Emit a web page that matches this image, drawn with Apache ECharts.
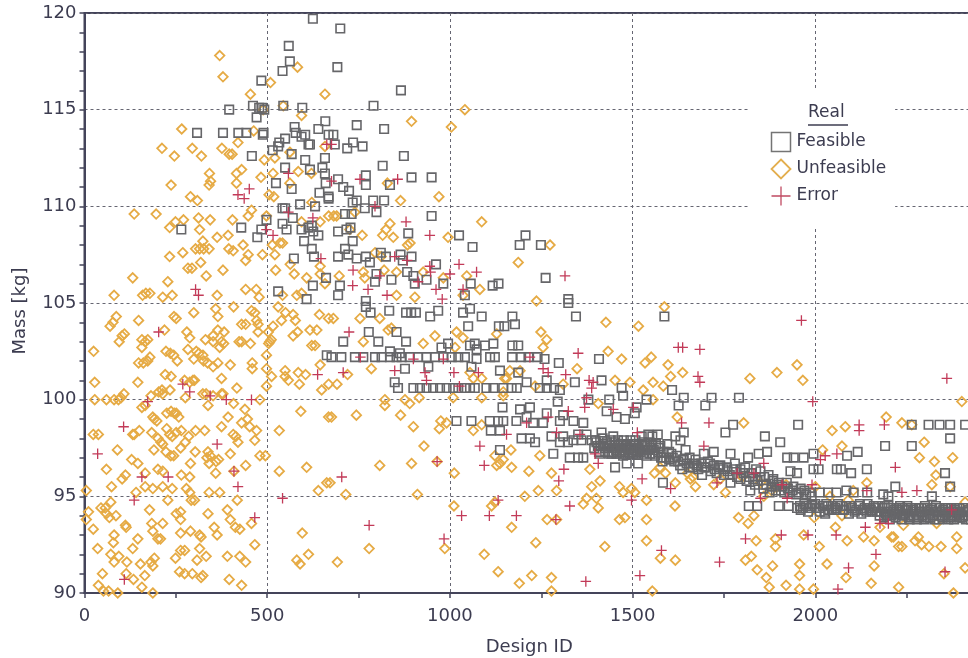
<!DOCTYPE html>
<html><head><meta charset="utf-8">
<style>html,body{margin:0;padding:0;background:#fff;overflow:hidden}#c{width:968px;height:658px}</style>
<script src="https://cdn.jsdelivr.net/npm/echarts@6/dist/echarts.min.js"></script>
</head><body><div id="c"></div>
<script>
var feasible=[
[625,119.7],[559,118.3],[562,117.5],[542,117],[484,116.5],[396,115],[461,115.2],[478,115.1],[486,115.1],[492,115],[544,115.2],[596,115.1],[471,114.6],[308,113.8],[379,113.8],[421,113.8],[443,113.8],[490,113.8],[488,113.7],[575,114.1],[578,113.8],[594,113.6],[604,113.7],[659,114.4],[640,114],[668,113.7],[613,113.2],[617,113.2],[549,113.5],[533,113.3],[530,113.1],[515,112.9],[458,112.6],[567,112.7],[604,112.4],[658,112.5],[549,112],[617,111.9],[651,112],[658,111.7],[524,111.2],[567,110.9],[660,111.2],[643,110.7],[668,110.5],[590,110.1],[631,110],[668,110.4],[542,109.9],[549,109.9],[570,109.4],[498,109.3],[542,109.1],[553,108.8],[265,108.8],[429,108.9],[484,108.8],[473,108.4],[594,108.8],[613,108.9],[622,109],[626,108.7],[640,108.5],[601,108.2],[622,107.8],[628,107.4],[573,107.3],[661,106.3],[625,105.9],[530,105.6],[608,105.2],[663,102.3],
[700,119.2],[692,117.2],[866,116],[791,115.2],[745,114.2],[820,114],[681,113.7],[685,113.2],[719,113],[735,113.3],[761,113.1],[874,112.6],[816,112.1],[895,111.5],[950,111.5],[770,111.6],[770,111.1],[836,111.1],[694,111.4],[708,111],[724,110.8],[745,110.3],[790,110.3],[820,110.3],[734,110.2],[713,109.6],[731,109.6],[767,109.9],[799,109.7],[950,109.5],[886,108.6],[694,108.7],[717,108.8],[728,108.9],[734,108.2],[713,107.8],[722,107.5],[694,107.4],[745,107.3],[770,107.4],[811,107.6],[825,107.4],[865,107.5],[871,107.2],[895,107.4],[781,107.1],[1025,108.5],[1062,107.9],[1207,108.5],[1191,108],[1249,108],[962,107],[883,106.6],[900,106.4],[799,106.5],[795,106.1],[840,106.2],[904,106],[936,106.2],[982,106],[1057,106],[1117,105.9],[1133,106],[1262,106.3],[1324,105.2],[699,105.9],[694,105.4],[770,105.1],[1041,105.4],
[1324,105],[1345,104.3],[770,104.8],[783,104.5],[834,104.6],[880,104.5],[894,104.5],[907,104.5],[946,104.3],[968,104.6],[1036,104.5],[1055,104.7],[1087,104.3],[1050,103.8],[1134,103.8],[1149,103.8],[1171,104.3],[1178,103.9],[708,103],[778,103.5],[804,103],[854,103.5],[880,103],[995,102.9],[1055,102.8],[1068,102.9],[1073,102.6],[1096,102.8],[1119,102.9],[1171,102.8],[1187,102.8],[836,102.5],[863,102.4],[977,102.7],
[676,102.2],[703,102.2],[740,102.2],[763,102.2],[795,102.2],[813,102.2],[836,102.2],[854,102.2],[868,102.2],[890,102.2],[913,102.2],[936,102.2],[959,102.2],[982,102.2],[1005,102.2],[1023,102.2],[1041,102.2],[1073,102.1],[1110,102.2],[1123,102.2],[1170,102.2],[1195,102.2],[1215,102.2],[1240,102.2],[1259,102.1],[1298,101.9],[1408,102.1],
[900,100.6],[918,100.6],[936,100.6],[954,100.6],[973,100.6],[991,100.6],[1009,100.6],[1023,100.6],[1041,100.6],[1055,100.6],[1068,100.6],[1100,100.6],[1119,100.6],[1146,100.6],[1169,100.6],[1183,100.6],[1246,100.6],[1265,100.6],[1285,100.6],
[849,100.9],[858,100.6],[877,101.6],[941,101.7],[1059,101.7],[1137,101.5],[1187,101.4],[1210,100.9],[1265,101],[1342,100.9],[1415,101],[1301,100.5],[1470,100.6],[1474,100.2],[1295,99.9],[1379,100],[1436,100],[1538,100],[1511,99.6],[1506,99.3],[1144,99.6],[1192,99.5],[1219,99.6],[1429,99.4],[1456,99.1],[1479,99],[1265,99.3],[1310,99.2],
[1018,98.9],[1059,98.9],[1109,98.9],[1132,98.9],[1146,98.9],[1210,99.1],[1182,98.9],[1228,98.8],[1255,98.8],[1301,98.9],[1338,98.9],[1365,98.8],[1112,98.4],[1137,98.4],[1196,98],[1219,98],[1233,97.8],[1278,98.1],[1137,97.4],[1283,97.2],[1301,97.8],[1328,97],[1351,97],[1365,97],[1310,98.1],[1323,97.8],[1338,97.9],
[1452,96.5],[1484,96.7],[1515,96.7],[1351,98.2],[1360,97.9],[1374,98.2],[1388,97.9],[1401,97.8],[1415,98.3],[1420,97.7],[1433,97.5],[1447,98.1],[1447,97.3],[1461,97.6],[1474,97.7],[1474,97.1],[1488,97.4],[1502,97.7],[1502,97.2],[1515,97.5],[1525,98.1],[1534,97.6],[1538,97.1],[1543,98.2],
[1395,97.5],[1408,97.3],[1412,97.6],[1425,97.3],[1438,97.6],[1442,97.2],[1452,97.5],[1456,97.2],[1465,97.3],[1470,97.5],[1478,97.3],[1482,97.6],[1492,97.2],[1496,97.5],[1506,97.4],[1510,97.2],[1520,97.3],[1528,97.4],[1542,97.4],[1548,97.2],[1558,97.4],[1562,97.1],[1572,97.5],[1578,97],
[1398,97.9],[1405,97.6],[1410,97.2],[1418,98],[1424,97.5],[1430,97.8],[1436,97.2],[1440,97.9],[1445,97.5],[1450,97.8],[1455,97.4],[1460,97.9],[1464,97.2],[1468,97.7],[1472,97.4],[1476,97.9],[1480,97.2],[1485,97.7],[1490,97.5],[1494,97.9],[1498,97.3],[1504,97.6],[1508,97.9],[1512,97.3],[1517,97.7],[1522,97.4],[1526,97.8],[1530,97.2],[1536,97.7],[1540,97.4],[1546,97.8],[1550,97.5],[1556,97.2],[1564,97.7],[1570,97.3],[1576,97.6],
[1587,104.3],[1608,100.5],[1640,100.1],[1626,99.7],[1716,100.1],[1699,99.7],[1791,100.1],[1775,98.7],[1754,98.3],[1953,98.7],[1862,98.1],[1904,97.8],[1868,97.3],[1768,97.2],[1816,97],[1845,97.2],[1569,98.2],[1617,98.1],[1640,98.3],[1631,97.9],[1595,97.7],[1554,98.1],[1554,97.6],[1722,97.3],[1695,97.2],[1645,97.4],[1600,97.3],[1582,96.8],[1636,96.4],[1668,96.7],[1690,96.1],[1736,96.5],[1768,95.7],[1822,95.3],[1818,94.5],[1841,94.5],[1900,94.5],[1927,94.5],[1923,97],[1941,97],[1968,97],[1995,97.2],[2087,97.1],[2116,97.3],[2191,97.6],[2264,98.7],[2310,98.7],[2340,98.7],[2369,98.7],[2410,98.7],[2369,98],[2264,97.6],[2355,96.2],[2141,96.4],[2059,96.4],[2070,96.4],[2098,96.2],[2219,95.5],[2369,95.5],[2319,95],[1995,96.4],[2009,96.4],[1950,96.2],[1932,96.3],[2027,94.1],[1583,95.7],
[1610,97],[1625,96.8],[1640,96.9],[1655,96.5],[1675,96.6],[1700,96.5],[1712,96.7],[1725,96.4],[1748,96.4],[1760,96.3],[1780,96.7],[1795,96.4],[1808,96.5],[1825,96.2],[1838,96.4],[1850,96.3],[1860,96],[1872,96.1],[1885,95.9],[1835,95.6],[1858,95.6],[1880,95.5],[1895,95.6],[1910,95.5],[1925,95.4],[1938,95.3],[1955,95.2],[1970,95.3],[1985,95.2],[2012,95.2],[2035,95.2],[2058,95.2],[2085,95.3],[2105,95.2],[2142,95.2],[2186,95.1],[2200,95],
[1585,97.3],[1592,97],[1600,96.9],[1606,97.2],[1614,96.8],[1620,97.1],[1630,96.6],[1638,96.9],[1648,96.7],[1656,97],[1664,96.5],[1672,96.9],[1680,96.4],[1688,96.7],[1696,96.5],[1706,96.8],[1714,96.3],[1722,96.6],[1730,96.2],[1740,96.6],[1750,96.1],[1758,96.5],[1766,96.1],[1776,96.4],[1786,96],[1795,95.9],[1804,96.2],[1812,95.8],[1820,96],[1830,95.9],[1842,95.8],[1850,96],[1858,95.4],[1866,95.6],[1875,95.2],[1884,95.8],[1892,95.3],[1900,95.7],[1906,95.3],[1915,95.2],[1922,95.7],[1930,95.2],[1940,95.5],[1948,95.1],[1960,95.4],[1975,95.1],[1990,95],
[1950,94.4],[1958,94.5],[1966,94.4],[1975,94.5],[1985,94.4],[1992,94.6],[2003,94.4],[2012,94.2],[2020,94.5],[2030,94.6],[2038,94.3],[2048,94.5],[2055,94.4],[2062,94.6],[2075,94.3],[2084,94.5],[2092,94.1],[2100,94.4],[2108,94.2],[2118,94.5],[2126,94.1],[2135,94.4],[2143,94.6],[2152,94.3],[2160,94.5],[2168,94.2],[2176,94],[2184,94.4],[2192,94.1],[2200,94.5],[2208,94],[2216,94.3],[2224,94.1],[2232,94.5],[2240,94],[2248,94.3],[2256,93.9],[2262,94.4],[2270,94],[2278,93.8],[2286,94.2],[2294,94],[2300,94.5],[2308,93.9],[2316,94.3],[2322,94],[2330,94.5],[2338,93.8],[2346,94.2],[2354,94],[2362,94.4],[2370,93.9],[2378,94.2],[2386,94],[2394,94.4],[2402,93.9],[2410,94.2],[2418,94],[2426,93.8],
[2190,94.5],[2198,94.2],[2206,94.4],[2214,94.1],[2222,94.4],[2230,94.2],[2238,94.4],[2246,94.1],[2254,94.3],[2260,94],[2268,94.3],[2276,94.1],[2284,94.4],[2292,94.2],[2304,94.2],[2312,94.1],[2320,94.4],[2334,94.2],[2342,94],[2350,94.3],[2358,94.1],[2366,94.2],[2374,94],[2382,94.3],[2390,94.1],[2398,94.2],[2406,94],[2414,94.2],
[1960,94.3],[1970,94.6],[1980,94.2],[1990,94.5],[2000,94.6],[2010,94.4],[2025,94.2],[2035,94.5],[2045,94.3],[2058,94.3],[2068,94.5],[2080,94.3],[2096,94.5],[2112,94.3],[2122,94.6],[2130,94.3],[2140,94.2],[2148,94.4],[2156,94.2],[2164,94.4],[2172,94.5],[2180,94.2],[2188,93.9],[2196,94],[2204,93.8],[2212,94.2],[2220,93.9],[2228,94.3],[2236,93.8],[2244,94.1],[2252,94.5],[2258,93.8],[2266,94.2],[2274,94.4],[2282,93.9],[2290,94.4],[2298,93.8],[2306,94.4],[2314,93.9],[2326,93.8],[2332,94.2],[2340,94.4],[2348,93.9],[2356,94.4],[2364,93.8],[2372,94.4],[2380,93.8],[2388,94.4],[2396,93.9],[2404,94.4],[2412,93.8],[2420,94.3]
];
var unfeasible=[
[25,102.5],[28,100.9],[28,100],[60,100],[81,100],[93,100],[100,100.1],[108,100.3],[70,103.8],[78,104],[87,104.3],[95,103],[103,103.3],[109,103.4],[148,104.1],[157,103.1],[166,103],[173,103.1],[157,102.7],[148,101.9],[161,101.9],[179,102.2],[173,102],[146,100.9],[157,99.6],[166,99.7],[245,104.3],[251,104.2],[299,104.5],[219,103.6],[223,102.5],[235,102.4],[244,102.3],[254,102],[221,101.3],[237,101.2],[182,100.2],[203,100.4],[212,100.5],[214,100.3],[234,100.5],[280,103.5],[288,103.2],[283,102.6],[306,102.5],[313,102.4],[299,102.1],[324,102.3],[326,102],[337,101.9],[352,101.7],[365,101.9],[331,103.1],[352,103.3],[365,103.6],[382,103.5],[375,103],[381,102.9],[370,102.7],[352,103],[359,104.7],[365,104.3],[408,104.8],[430,103.9],[441,103.9],[457,104.6],[466,104.5],[471,104.1],[475,103.9],[475,103.5],[423,103],[430,103],[454,102.9],[399,101.8],[459,101.9],[459,101.6],[375,101.1],[417,100.6],[379,100.3],[324,100.3],[333,100.3],[274,101],[288,100.9],[297,101],[301,101],[276,100.1],[338,99.7],[352,100.2],[375,100.3],[408,99.8],[480,100],[507,103],[511,103.1],[504,102.9],[498,102.3],[503,103.5],[516,103.8],
[225,99.3],[237,99.4],[246,99.3],[251,99.3],[258,99.1],[187,99.1],[191,99],[198,98.9],[393,99.1],[375,98.6],[439,99.5],[446,99],[430,98.8],[452,98.6],[471,98.4],[466,97.9],[407,98.2],[414,98.1],[420,97.8],[24,98.2],[38,98.2],[132,98.2],[136,98.2],[150,98.4],[184,98.3],[201,98],[209,97.8],[214,97.7],[190,97.4],[225,98.5],[233,98.2],[240,98.1],[251,98.3],[265,98.4],[285,98.1],[276,97.8],[263,97.5],[304,98.4],[329,98.4],[223,97.3],[236,97.1],[244,97.1],[303,97.3],[290,96.7],[338,97.3],[344,97.1],[335,97],[360,96.8],[367,96.9],[341,96.7],[359,96.2],[399,97.2],[441,96.6],[480,97.1],[495,97.1],[533,98.4],[592,99.4],[533,96.3],[608,96.5],[90,97.4],[129,96.9],[146,96.7],[60,96.4],[166,96.2],[201,96.4],[214,96.3],[265,96.1],[288,96],[112,96.1],[103,95.9],[74,95.5],[166,95.5],[187,95.4],[214,95.5],[240,95.4],[279,95.4],[288,95.2],[292,94.8],[301,94.8],[341,95.2],[370,95.2],[5,95.3],[141,95.2],[228,94.8],[418,94.8],[409,96.3],
[11,94.2],[5,93.8],[24,93.3],[45,94.4],[57,94.4],[72,94.7],[60,94.1],[68,93.9],[86,94],[112,93.5],[114,93.4],[178,94.3],[184,93.6],[187,93.2],[214,93.6],[201,92.8],[208,92.8],[251,94.1],[263,94.2],[263,93.8],[338,94.1],[355,93.4],[391,94.3],[399,93.8],[413,93.4],[425,93.3],[457,93.6],[363,93],[290,93.2],[263,93.1],[315,93],[319,92.9],[466,92.5],[596,93.1],[81,93],[79,92.6],[36,92.3],[132,92.3],[146,92.8],[72,92],[94,91.9],[81,91.6],[116,91.6],[153,91.5],[191,91.8],[182,91.6],[187,91.4],[249,91.8],[263,92.2],[274,92.2],[315,92.3],[308,91.7],[333,91.9],[391,91.9],[425,91.9],[441,91.6],[581,91.7],[590,91.5],[613,92],[49,91],[114,91],[165,90.9],[134,90.7],[260,91.1],[274,91],[295,91],[319,90.8],[324,90.9],[396,90.7],[430,90.4],[38,90.4],[52,90.1],[66,90.1],[91,90],[157,90.3],[187,90],
[370,117.8],[379,116.7],[509,116.4],[583,117.2],[454,115.8],[658,115.8],[266,114],[212,113],[246,112.6],[295,113],[320,112.6],[376,113],[396,112.7],[404,112.7],[420,113.3],[463,113.9],[492,112.4],[521,112.5],[342,111.7],[345,111.3],[341,111.1],[237,111.1],[290,110.5],[309,110.3],[416,111.7],[430,111.9],[416,111.2],[483,111.5],[516,111.7],[505,110.6],[518,110.5],
[136,109.6],[196,109.6],[233,108.9],[249,109.2],[271,109.3],[312,109.4],[344,109.3],[315,108.8],[405,109.3],[448,109.5],[457,109.8],[324,108.2],[363,108.4],[393,108.5],[434,108],[304,107.8],[315,107.8],[326,107.8],[341,107.8],[395,107.8],[407,107.7],[448,107.5],[441,107.2],[487,107.5],[521,107.5],[269,107.6],[233,107.4],[318,107.1],[283,106.8],[294,106.8],[379,106.7],[333,106.4],[132,106.3],[228,106.1],[523,106.7],[574,106.5],[514,108],[535,108.1],[542,108.1],[563,107],[81,105.4],[159,105.4],[168,105.5],[179,105.5],[214,105.3],[240,105.4],[363,105.4],[441,105.7],[470,105.7],[478,105.3],[542,105.4],[581,105.4],[594,105.5],[594,114.7],[544,115.2],[489,115],[645,106.9],[645,106.5],[608,106.3],[658,106],[594,109.2],[622,110.2],[645,109.2],[668,109.5],[585,111.8],[621,111.7],[562,111.2],[498,109.5],[658,113.1],[562,112.8],
[530,104.8],[550,104.5],[571,104.4],[577,104.1],[583,103.5],[571,103.3],[617,103.6],[636,103.6],[622,102.8],[631,102.8],[643,104.4],[668,104.2],[539,104.1],[498,101.6],[512,101.2],[549,101.5],[549,101.2],[558,101],[585,101.4],[605,101.3],[588,100.8],[498,100.7],[649,100.5],[668,100.8],[645,101.8],[668,99.1],[640,95.3],[663,95.7],
[1041,115],[1004,114.1],[895,114.4],[829,111.2],[970,110.5],[865,110.3],[1087,109.2],[836,109.1],[825,108.8],[816,108.5],[845,108.4],[760,108.5],[995,108.4],[891,108.1],[884,108],[1274,108],[1187,107.1],[1082,105.7],[1046,106.4],[1036,105.4],[1237,105.1],[904,105.3],[854,105.4],[795,107.6],[812,107.4],[854,106.6],[690,109.5],[726,108.8],[682,109.5],[740,109.7],[697,106.4],[763,106.6],[767,106.3],[820,106.7],[927,106.6],[982,106.3],
[681,104.2],[754,104.2],[808,104.2],[831,103.6],[840,103.7],[959,103.3],[1018,103.5],[1036,103.2],[1128,103.4],[1249,103.5],[1265,103.1],[1255,102.7],[1427,104],[1516,103.8],[763,103],[927,102.9],[785,101.6],[720,101.3],[691,100.8],[1433,102.5],[1470,102.1],[1534,101.9],[1348,101.6],[1452,101],[1493,100.9],[1529,100.5],[1406,99.8],[916,100.1],[1009,100.1],[1087,100.1],[1146,100.2],[822,100],[822,99.7],[877,100],[890,99.8],[744,99.2],[865,99.2],[676,99.1],[900,98.6],[975,98.9],[971,98.5],[991,98.8],[1064,98.4],[1087,98.7],[929,97.6],[808,96.6],[895,96.7],[965,96.8],[1012,96.2],[672,95.7],[715,95.1],[911,95.1],[1011,94.5],[1114,94.5],[1123,94.7],[1205,95],[1242,95.3],[1292,95.3],[1169,96.5],[1216,96.3],[1278,96.2],[1128,96.6],[1137,96.7],[1146,96.9],[1123,97.1],[1167,97.4],[1246,97.1],[1266,93.8],[1292,93.8],[1169,93.4],[1235,92.6],[779,92.3],[986,92.3],[1094,92],[692,91.6],[1132,91.1],[1224,90.9],[1190,90.5],[1278,90.8],[1278,90.1],[1424,92.4],[1383,96.4],[1411,95.8],[1388,95.5],[1374,94.9],[1365,94.6],[1406,94.4],[1401,94.9],[1464,95.5],[1474,95.2],[1497,95.4],[1506,95.2],[1538,94.8],[1464,93.8],[1479,93.9],[1538,93.8],[1538,92.7],
[1155,101.1],[1150,101.1],[1064,101.1],[1055,101.4],[1014,102.7],[1192,101.5],[1164,101.5],[1233,100.7],[1310,100.8],[1146,100.4],[1087,101.1],
[1587,104.8],[1551,102.2],[1597,101.8],[1604,101.2],[1637,101.4],[1584,100.7],[1556,100.9],[1556,100],[1821,101.1],[1895,101.4],[1950,101.8],[1966,101],[1622,99.1],[1804,98.8],[2046,98.4],[2082,98.6],[2073,97.6],[2020,97.4],[2194,99.1],[2237,98.8],[2264,98.7],[2298,97.8],[2285,97],[2326,96.8],[2376,97],[2330,96.1],[2319,95.6],[2401,99.9],[2369,95.5],
[1616,94.5],[1790,93.9],[1816,93.6],[1832,94],[1838,92.7],[1891,92.8],[1891,92.4],[1968,93],[1997,93.9],[2011,92.4],[2055,93.4],[2087,92.7],[2073,94],[2132,92.9],[2161,92.7],[2177,93.4],[2209,92.9],[2214,92.9],[2228,92.4],[2237,92.4],[2273,92.7],[2282,92.9],[2291,92.5],[2311,92.4],[2344,92.4],[2387,92.3],[2387,92.9],[2241,93.5],[2332,93.6],[1576,91.8],[1617,91.7],[1809,91.7],[1825,91.9],[1841,91.2],[1883,91.4],[1866,90.8],[1874,90.3],[1920,90.4],[1957,91.5],[1957,90.9],[1957,90.2],[1995,90.2],[2032,91.5],[2084,90.8],[2153,90.5],[2161,91.4],[2228,90.3],[2352,91],[2410,91.3],[1554,90.1],[2378,90],
[1672,95.5],[1658,95.9],[1617,95.7],[1722,95.6],[1754,95.2],[1859,95],[1895,95.5],[2141,95.7],[2104,95.3],[2410,94.7],
[1560,96.2],[1575,96.5],[1590,96.2],[1650,96.2],[1665,96],[1740,95.9],[1800,96],[1850,95.7],[1880,95.3],[1920,95.6],[2000,95.5],[2040,95],[2090,94.8]
];
var error=[
[203,103.5],[269,100.8],[288,100.4],[344,100.2],[388,100],[457,100],[173,99.9],[107,98.6],[36,97.2],[363,97.7],[157,96],[229,96],[409,96.3],[420,95.5],[136,94.8],[466,93.9],[542,94.9],[638,101.3],[109,90.7],
[451,110.9],[420,110.6],[437,110.4],[558,111.7],[663,113.2],[558,109.7],[625,109.4],[498,108.8],[516,108.5],[647,107.3],[304,105.7],[312,105.4],
[754,111.4],[857,111.4],[795,110],[880,109.2],[945,108.5],[1025,107],[1073,106.6],[1000,106.5],[945,106.9],[947,106.6],[735,106.7],[849,107.4],[808,106.4],[734,105.9],[776,105.7],[962,105.7],[913,106.1],[1315,106.4],[1036,105.7],[828,105.4],[979,105.2],[676,113.2],[676,111.3],[883,107.2],
[724,103.5],[708,101.4],[849,101.5],[755,102.2],[900,102.1],[982,102.1],[1011,101.4],[1078,101.4],[1026,100.7],[936,101],[932,101.4],[1219,102.2],[1255,101.6],[1269,101.4],[1317,101.3],[1351,102.4],[1381,101],[1392,100.9],[1388,100.6],[1374,100.1],[1369,99.6],[1324,99.4],[1269,99.1],[1210,98.8],[1155,98.2],[1082,97.6],[1094,96.6],[965,96.8],[704,96],[1312,96.4],[1298,95.8],[1132,94.8],[1328,94.5],[1032,94],[1108,94],[1182,94],[1290,93.8],[779,93.5],[984,92.8],[1372,90.6],[1520,90.9],[1497,94.8],[1526,95.9],[1406,96.7],[1397,97.2],[1513,98.3],[1502,99.6],[1447,99.5],[1292,98.3],[1356,98.2],
[1962,104.1],[1625,102.7],[1637,102.7],[1684,102.6],[1679,101.2],[1684,100.9],[2360,101.1],[1993,99.9],[1634,98.8],[1709,98.8],[1695,97.6],[2120,98.7],[2120,98.4],[2189,98.7],[2219,96.5],[2027,97.1],[2059,97.2],[2014,96.9],[2237,95.2],[2278,95.3],[2141,95.3],[1604,95.4],[1731,95.7],[1991,95.6],[1923,94.9],[1850,94.9],[1859,96.7],[1786,96.2],[1909,95.6],[2373,94.3],[2137,93.4],[2177,93.6],[2200,93.6],[1809,92.8],[1907,93],[1980,93],[2057,93],[1579,92.2],[2166,92],[1738,91.6],[2091,91.3],[2062,90.2],[2355,91.1],[1832,96.2]
];
var legendTitle='Real';
var xName='Design ID', yName='Mass [kg]';
var txt='#3c3c50', axisCol='#44445a', gridCol='#666672';
var plus='path://M0,5 L10,5 M5,0 L5,10';
var font='DejaVu Sans';
function ser(name,data,sym,size,col,w){return {name:name,type:'scatter',data:data,symbol:sym,symbolSize:size,clip:true,large:false,
 itemStyle:{color:'none',borderColor:col,borderWidth:w,opacity:1},emphasis:{disabled:true},animation:false};}
var chart=echarts.init(document.getElementById('c'),null,{renderer:'canvas'});
chart.setOption({
 animation:false,backgroundColor:'#fff',
 grid:{show:true,backgroundColor:'transparent',borderColor:axisCol,borderWidth:2,left:84.5,top:13,width:913.5,height:580,containLabel:false,outerBoundsMode:'none'},
 xAxis:{type:'value',min:0,max:2500,interval:500,name:xName,nameLocation:'middle',nameGap:45,nameMoveOverlap:false,
  nameTextStyle:{color:txt,fontFamily:font,fontSize:18,padding:[0,24,0,0]},
  axisLine:{show:true,onZero:false,lineStyle:{color:axisCol,width:2}},
  axisTick:{show:true,inside:false,length:5,lineStyle:{color:axisCol,width:1.5}},
  minorTick:{show:true,splitNumber:2,length:5,lineStyle:{color:axisCol,width:1.5}},
  axisLabel:{color:txt,fontFamily:font,fontSize:18,margin:14,hideOverlap:false,formatter:function(v){return String(v);}},
  splitLine:{show:true,lineStyle:{color:gridCol,type:[3,3],width:1}}},
 yAxis:{type:'value',min:90,max:120,interval:5,name:yName,nameLocation:'middle',nameGap:55,nameRotate:90,nameMoveOverlap:false,
  nameTextStyle:{color:txt,fontFamily:font,fontSize:18,padding:[0,16,0,0]},
  axisLine:{show:true,onZero:false,lineStyle:{color:axisCol,width:2}},
  axisTick:{show:true,inside:false,length:5,lineStyle:{color:axisCol,width:1.5}},
  minorTick:{show:true,splitNumber:5,length:5,lineStyle:{color:axisCol,width:1.5}},
  axisLabel:{color:txt,fontFamily:font,fontSize:18,margin:8},
  splitLine:{show:true,lineStyle:{color:gridCol,type:[3,3],width:1}}},
 legend:{show:true,left:750,top:90,orient:'vertical',padding:[40,9,19,19],itemWidth:19,itemHeight:19,itemGap:3,
  backgroundColor:'#fff',selectedMode:false,z:5,
  textStyle:{color:txt,fontFamily:font,fontSize:17,padding:[0,0,0,1]},
  data:[
   {name:'Feasible',icon:'rect',itemStyle:{color:'none',borderColor:'#747474',borderWidth:1.5}},
   {name:'Unfeasible',icon:'diamond',itemStyle:{color:'none',borderColor:'#e3ae4e',borderWidth:1.8}},
   {name:'Error',icon:plus,itemStyle:{color:'none',borderColor:'#c04a62',borderWidth:1.3}}
  ]},
 graphic:[
  {type:'text',left:808,top:104,z:100,style:{text:legendTitle,fill:txt,font:'17px "DejaVu Sans"'}},
  {type:'line',z:100,shape:{x1:808,y1:125,x2:848,y2:125},style:{stroke:txt,lineWidth:1.5}}
 ],
 series:[
  ser('Unfeasible',unfeasible,'diamond',9.5,'#e6ab45',1.8),
  ser('Feasible',feasible,'rect',8.5,'#666669',1.6),
  ser('Error',error,plus,10.5,'#c23a58',1.3)
 ]
});
</script></body></html>
